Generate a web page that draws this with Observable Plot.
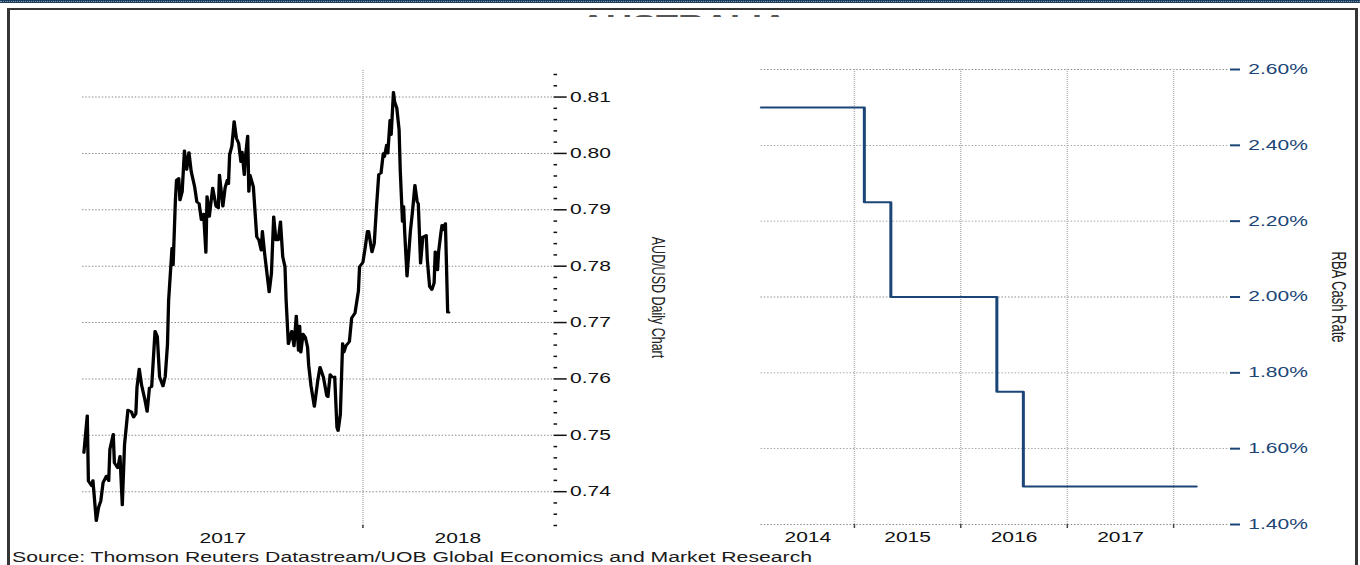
<!DOCTYPE html>
<html><head><meta charset="utf-8">
<script src="https://cdn.jsdelivr.net/npm/d3@7"></script>
<script src="https://cdn.jsdelivr.net/npm/@observablehq/plot@0.6"></script>
<style>
html,body{margin:0;padding:0;background:#fff;}
#page{position:relative;width:1360px;height:565px;overflow:hidden;background:#fff;}
#band{position:absolute;left:0;top:0;width:1360px;height:3px;background:#1d3d5f;z-index:5;}
#band:after{content:"";position:absolute;left:0;top:1px;width:100%;height:0;border-top:1px dotted #7d9cbd;}
#frame{position:absolute;left:7px;top:8px;width:1351px;height:620px;box-sizing:border-box;border:2px solid #363636;border-left-width:3px;border-right-width:3px;z-index:5;}
#stage{position:absolute;left:0;top:0;width:906.667px;height:565px;transform:scaleX(1.5);transform-origin:0 0;font-family:"Liberation Sans",Arial,sans-serif;}
#stage svg{position:absolute;top:0;}
#title{position:absolute;left:0;width:912px;top:15px;height:2px;overflow:hidden;text-align:center;z-index:4;}
#title div{margin-top:-3px;font-size:24px;line-height:1;font-weight:bold;color:#555;white-space:nowrap;}
#caption{position:absolute;left:8px;top:550px;font-size:14.15px;line-height:1;color:#1a1a1a;white-space:nowrap;z-index:4;}
</style>
</head><body>
<div id="page">
  <div id="band"></div>
  <div id="frame"></div>
  <div id="stage">
    <div id="title"><div></div></div>
    <div id="caption"></div>
  </div>
</div>
<script>
// ---------- data: AUD/USD daily (left panel) ----------
const audDates = [
  "2017-04-29","2017-05-02","2017-05-03","2017-05-06","2017-05-07","2017-05-10","2017-05-12","2017-05-14","2017-05-16","2017-05-19","2017-05-21","2017-05-22","2017-05-25","2017-05-26","2017-05-29","2017-05-31",
  "2017-06-02","2017-06-04","2017-06-07","2017-06-10","2017-06-12","2017-06-14","2017-06-15","2017-06-17","2017-06-19","2017-06-22","2017-06-24","2017-06-26","2017-06-28",
  "2017-07-01","2017-07-03","2017-07-05","2017-07-08","2017-07-10","2017-07-12","2017-07-13","2017-07-16","2017-07-17","2017-07-19","2017-07-20","2017-07-22","2017-07-23","2017-07-25","2017-07-27","2017-07-29","2017-07-31",
  "2017-08-02","2017-08-05","2017-08-07","2017-08-09","2017-08-11","2017-08-13","2017-08-15","2017-08-16","2017-08-18","2017-08-21","2017-08-24","2017-08-26","2017-08-27","2017-08-30",
  "2017-09-01","2017-09-03","2017-09-04","2017-09-05","2017-09-07","2017-09-09","2017-09-11","2017-09-13","2017-09-15","2017-09-16","2017-09-18","2017-09-19","2017-09-21","2017-09-22","2017-09-23","2017-09-26","2017-09-29",
  "2017-10-01","2017-10-03","2017-10-04","2017-10-06","2017-10-10","2017-10-12","2017-10-14","2017-10-16","2017-10-18","2017-10-20","2017-10-22","2017-10-24","2017-10-25","2017-10-27","2017-10-30",
  "2017-11-01","2017-11-03","2017-11-05","2017-11-06","2017-11-07","2017-11-09","2017-11-11","2017-11-13","2017-11-14","2017-11-16","2017-11-19","2017-11-22","2017-11-24","2017-11-27","2017-11-30",
  "2017-12-01","2017-12-03","2017-12-05","2017-12-07","2017-12-09","2017-12-10","2017-12-12","2017-12-14","2017-12-15","2017-12-17","2017-12-20","2017-12-22","2017-12-25","2017-12-28","2017-12-29",
  "2018-01-01","2018-01-03","2018-01-05","2018-01-06","2018-01-09","2018-01-11","2018-01-13","2018-01-15","2018-01-17","2018-01-19","2018-01-20","2018-01-22","2018-01-23","2018-01-25","2018-01-26","2018-01-28","2018-01-29","2018-01-31",
  "2018-02-02","2018-02-03","2018-02-05","2018-02-06","2018-02-07","2018-02-09","2018-02-11","2018-02-12","2018-02-14","2018-02-16","2018-02-18","2018-02-19","2018-02-21","2018-02-23","2018-02-26","2018-02-27",
  "2018-03-01","2018-03-03","2018-03-05","2018-03-06","2018-03-08","2018-03-09","2018-03-11","2018-03-12","2018-03-13","2018-03-15","2018-03-17","2018-03-18"
];
const audValues = [
  0.7469,0.7535,0.7419,0.7410,0.7420,0.7348,0.7372,0.7384,0.7416,0.7428,0.7419,0.7475,0.7502,0.7451,0.7442,0.7463,
  0.7376,0.7484,0.7545,0.7542,0.7532,0.7538,0.7585,0.7618,0.7590,0.7563,0.7542,0.7584,0.7586,
  0.7685,0.7675,0.7604,0.7587,0.7604,0.7661,0.7739,0.7832,0.7802,0.7917,0.7953,0.7956,0.7917,0.7932,0.8005,0.7971,0.8002,
  0.7968,0.7941,0.7914,0.7911,0.7882,0.7893,0.7824,0.7924,0.7888,0.7939,0.7906,0.7903,0.7962,0.7906,
  0.7939,0.7953,0.7946,0.7998,0.8013,0.8057,0.8027,0.8018,0.7985,0.8003,0.7962,0.7994,0.8031,0.7932,0.7962,0.7941,0.7852,
  0.7846,0.7828,0.7862,0.7822,0.7754,0.7787,0.7888,0.7846,0.7846,0.7879,0.7817,0.7799,0.7740,0.7662,0.7685,
  0.7658,0.7712,0.7650,0.7694,0.7647,0.7680,0.7674,0.7656,0.7624,0.7588,0.7551,0.7597,0.7621,0.7603,0.7570,
  0.7568,0.7608,0.7603,0.7604,0.7514,0.7508,0.7537,0.7663,0.7647,0.7659,0.7666,0.7708,0.7717,0.7756,0.7799,
  0.7807,0.7833,0.7862,0.7862,0.7825,0.7840,0.7905,0.7963,0.7965,0.8000,0.7994,0.8015,0.8000,0.8059,0.8033,0.8109,0.8092,0.8080,
  0.8042,0.7971,0.7879,0.7906,0.7859,0.7782,0.7835,0.7862,0.7900,0.7944,0.7914,0.7911,0.7805,0.7852,0.7855,0.7811,
  0.7764,0.7758,0.7770,0.7826,0.7793,0.7826,0.7859,0.7873,0.7864,0.7876,0.7718,0.7718
];
const audDomain = ["2017-04-28", "2018-06-18"];
const audYearBoundaries = ["2018-01-01"];
const audYearLabels = ["2017", "2018"];
const audMajorTicks = [0.74, 0.75, 0.76, 0.77, 0.78, 0.79, 0.80, 0.81];
const audMinorTicks = [0.734,0.736,0.738,0.742,0.744,0.746,0.748,0.752,0.754,0.756,0.758,0.762,0.764,0.766,0.768,
  0.772,0.774,0.776,0.778,0.782,0.784,0.786,0.788,0.792,0.794,0.796,0.798,0.802,0.804,0.806,0.808,0.812,0.814];
const audAxisTitle = "AUD/USD Daily Chart";

// ---------- data: RBA cash rate (right panel) ----------
const rbaDates = ["2014-02-15", "2015-02-04", "2015-05-06", "2016-05-04", "2016-08-03", "2018-03-20"];
const rbaRates = [2.50, 2.25, 2.00, 1.75, 1.50, 1.50];
const rbaDomain = ["2014-02-15", "2018-07-11"];
const rbaYearBoundaries = ["2015-01-01", "2016-01-01", "2017-01-01", "2018-01-01"];
const rbaYearLabels = ["2014", "2015", "2016", "2017"];
const rbaTicks = [1.40, 1.60, 1.80, 2.00, 2.20, 2.40, 2.60];
const rbaAxisTitle = "RBA Cash Rate";

const titleText = "AUSTRALIA";
const captionText = "Source: Thomson Reuters Datastream/UOB Global Economics and Market Research";

// ---------- rendering ----------
const S = 1.5; // horizontal stretch of the whole picture
const navy = "#1b4576";
const font = '"Liberation Sans", Arial, sans-serif';
const D = s => new Date(s + "T00:00:00Z");
const mid = (a, b) => new Date((a.getTime() + b.getTime()) / 2);

const aud = audDates.map((d, i) => ({date: D(d), value: audValues[i]}));
const audDom = audDomain.map(D);
const audBounds = audYearBoundaries.map(D);
const audEdges = [audDom[0], ...audBounds, audDom[1]];
const audLabelData = audYearLabels.map((t, i) => ({t, x: mid(audEdges[i], audEdges[i + 1])}));

const rba = rbaDates.map((d, i) => ({date: D(d), rate: rbaRates[i]}));
const rbaDom = rbaDomain.map(D);
const rbaBounds = rbaYearBoundaries.map(D);
const rbaEdges = [rbaDom[0], ...rbaBounds];
const rbaLabelData = rbaYearLabels.map((t, i) => ({t, x: mid(rbaEdges[i], rbaEdges[i + 1])}));

const svgStyle = {fontFamily: font, fontSize: "14px", background: "transparent", overflow: "visible", maxWidth: "none"};

const LW = 466;
const left = Plot.plot({
  width: LW, height: 565,
  marginLeft: 82 / S, marginRight: LW - 552 / S, marginTop: 74, marginBottom: 40,
  style: svgStyle,
  x: {type: "utc", domain: audDom, axis: null},
  y: {domain: [0.734, 0.814], axis: null},
  marks: [
    Plot.ruleY(audMajorTicks, {stroke: "#8c8c8c", strokeWidth: 0.9, strokeDasharray: "1,1.2"}),
    Plot.ruleX(audBounds, {y1: () => 0.734, y2: () => 0.8149, stroke: "#b4b4b4", strokeWidth: 1, strokeDasharray: "1,1"}),
    Plot.axisX(audBounds, {tickSize: 3, fill: "none", stroke: "#333", label: null}),
    Plot.axisY(audMinorTicks, {anchor: "right", tickSize: 2.4, fill: "none", stroke: "#111", strokeWidth: 1.5, label: null}),
    Plot.axisY(audMajorTicks, {anchor: "right", tickSize: 8.8, tickPadding: 2.7, stroke: "#111", strokeWidth: 1.5,
      fill: "#111", fontSize: 14, tickFormat: d3.format(".2f"), label: null}),
    Plot.text(audLabelData, {x: "x", text: "t", frameAnchor: "bottom", lineAnchor: "top", dy: 8, fontSize: 14, fill: "#111"}),
    Plot.text([audAxisTitle], {text: d => d, frameAnchor: "right", textAnchor: "middle", lineAnchor: "middle",
      rotate: 90, dx: 70, dy: -2.5, fontSize: 12.5, fill: "#222"}),
    Plot.line(aud, {x: "date", y: "value", stroke: "#000", strokeWidth: 2.2, strokeLinejoin: "round"})
  ]
});
left.style.left = "0px";

const RW = 440;
const right = Plot.plot({
  width: RW, height: 565,
  marginLeft: 40, marginRight: 88, marginTop: 69, marginBottom: 41,
  style: svgStyle,
  x: {type: "utc", domain: rbaDom, axis: null},
  y: {domain: [1.4, 2.6], axis: null},
  marks: [
    Plot.ruleY(rbaTicks, {stroke: "#8c8c8c", strokeWidth: 0.9, strokeDasharray: "1,1.2"}),
    Plot.ruleX(rbaBounds, {y1: () => 1.4, y2: () => 2.6, stroke: "#b4b4b4", strokeWidth: 1, strokeDasharray: "1,1"}),
    Plot.axisX(rbaBounds, {tickSize: 4, fill: "none", stroke: "#444", label: null}),
    Plot.axisY(rbaTicks, {anchor: "right", tickSize: 6.7, tickPadding: 6, stroke: navy, strokeWidth: 2,
      fill: navy, fontSize: 14, tickFormat: d => d.toFixed(2) + "%", label: null}),
    Plot.text(rbaLabelData, {x: "x", text: "t", frameAnchor: "bottom", lineAnchor: "top", dy: 8, fontSize: 14, fill: "#111"}),
    Plot.text([rbaAxisTitle], {text: d => d, frameAnchor: "right", textAnchor: "middle", lineAnchor: "middle",
      rotate: 90, dx: 72.9, fontSize: 13, fill: "#222"}),
    Plot.line(rba, {x: "date", y: "rate", curve: "step-after", stroke: navy, strokeWidth: 2})
  ]
});
right.style.left = (700 / S) + "px";

const stage = document.getElementById("stage");
stage.insertBefore(left, stage.firstChild);
stage.insertBefore(right, stage.firstChild);
document.querySelector("#title div").textContent = titleText;
document.getElementById("caption").textContent = captionText;
</script>
</body></html>
